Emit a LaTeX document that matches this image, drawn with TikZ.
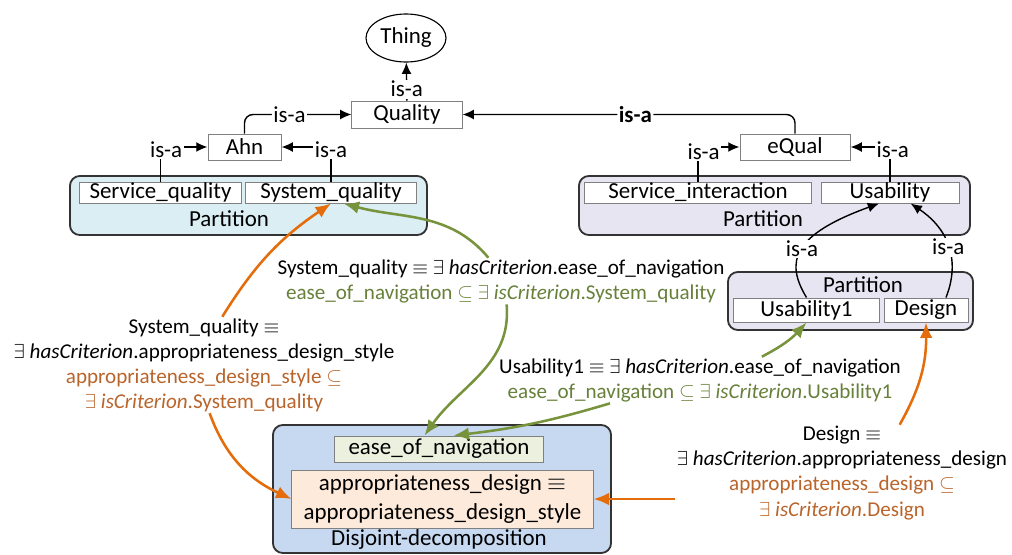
\documentclass[tikz,border=0pt]{standalone}
\usepackage{fontspec}
\setmainfont{Carlito}
\usetikzlibrary{arrows.meta,shapes.geometric}
\definecolor{grnarrow}{HTML}{77933C}
\definecolor{grntext}{HTML}{67803A}
\definecolor{orgarrow}{HTML}{E46C0A}
\definecolor{brntext}{HTML}{B9642A}
\definecolor{partblue}{HTML}{DAEEF3}
\definecolor{partlilac}{HTML}{E7E5F1}
\definecolor{disjblue}{HTML}{C6D9F1}
\definecolor{navgreen}{HTML}{EBF1DE}
\definecolor{apppeach}{HTML}{FDEADA}
\newcommand{\grn}[1]{\textcolor{grntext}{#1}}
\newcommand{\brn}[1]{\textcolor{brntext}{#1}}

\begin{document}
\begin{tikzpicture}[x=0.025cm, y=-0.025cm,
		every node/.style={font=\fontsize{16.3}{20.6}\selectfont},
		concept/.style={draw=black!50, fill=white, inner sep=0pt, line width=0.7pt},
		group/.style={draw=black!80, line width=1.3pt, rounded corners=7pt, inner sep=0pt},
		isa/.style={-{Latex[length=8pt,width=7pt]}, line width=1pt},
		lbl/.style={fill=white, inner sep=1pt},
		boldlbl/.style={lbl, font=\fontsize{16.3}{20.6}\selectfont\bfseries},
		garrow/.style={-{Latex[length=11pt,width=9pt]}, grnarrow, line width=1.8pt},
		oarrow/.style={-{Latex[length=11pt,width=9pt]}, orgarrow, line width=1.8pt},
		axiom/.style={align=center, inner sep=1pt, font=\fontsize{15}{17.8}\selectfont}]
			%%%%% START %%%%%
			\useasboundingbox (0, 0) rectangle (1012, 554);
			
			\node[draw, ellipse, line width=0.8pt, minimum width=2cm, minimum height=1.2cm, inner sep=0pt] (thing) at (406, 38) {Thing};
			\node[concept, minimum width=2.75cm, minimum height=0.675cm] (quality) at (407, 114.5) {Quality};
			\node[concept, minimum width=1.825cm, minimum height=0.65cm] (ahn) at (244.5, 147) {Ahn};
			\node[concept, minimum width=2.75cm, minimum height=0.65cm] (equal) at (795, 147) {eQual};
			
			% partitions
			\node[group, fill=partblue, minimum width=8.925cm, minimum height=1.475cm] (partleft) at (248.5, 205.5) {};
			\node[concept, minimum width=4.025cm, minimum height=0.525cm] (servq) at (160.5, 192.5) {Service\_quality};
			\node[concept, minimum width=4.25cm, minimum height=0.525cm] (sysq) at (331, 192.5) {System\_quality};
			\node (partleftlbl) at (229, 219) {Partition};
			
			\node[group, fill=partlilac, minimum width=9.775cm, minimum height=1.475cm] (partright) at (774.5, 205.5) {};
			\node[concept, minimum width=5.65cm, minimum height=0.525cm] (servint) at (698, 192.5) {Service\_interaction};
			\node[concept, minimum width=3.45cm, minimum height=0.525cm] (usab) at (890, 192.5) {Usability};
			\node (partrightlbl) at (763, 219) {Partition};
			
			\node[group, fill=partlilac, minimum width=6.125cm, minimum height=1.45cm] (partsmall) at (850.5, 301) {};
			\node (partsmalllbl) at (863, 285) {Partition};
			\node[concept, minimum width=3.625cm, minimum height=0.6cm] (usab1) at (806.5, 310) {Usability1};
			\node[concept, minimum width=2.1cm, minimum height=0.6cm] (design) at (926, 310) {Design};
			
			% disjoint decomposition
			\node[group, fill=disjblue, minimum width=8.45cm, minimum height=3.2cm] (disjoint) at (442, 489) {};
			\node[concept, fill=navgreen, minimum width=5.2cm, minimum height=0.65cm] (ease) at (439, 449) {ease\_of\_navigation};
			\node[concept, fill=apppeach, align=center, minimum width=7.525cm, minimum height=1.45cm] (approp) at (442.5, 499) {appropriateness\_design $\equiv$\\ appropriateness\_design\_style};
			\node (disjointlbl) at (439, 539) {Disjoint-decomposition};
			
			% axioms
			\node[axiom] (sqnav) at (501, 281) {System\_quality $\equiv$ $\exists$ \textit{hasCriterion}.ease\_of\_navigation\\ \grn{ease\_of\_navigation $\subseteq$ $\exists$ \textit{isCriterion}.System\_quality}};
			\node[axiom] (sqdef) at (204, 365) {System\_quality $\equiv$\\ $\exists$ \textit{hasCriterion}.appropriateness\_design\_style\\ \brn{appropriateness\_design\_style $\subseteq$}\\ \brn{$\exists$ \textit{isCriterion}.System\_quality}};
			\node[axiom] (u1nav) at (700, 380) {Usability1 $\equiv$ $\exists$ \textit{hasCriterion}.ease\_of\_navigation\\ \grn{ease\_of\_navigation $\subseteq$ $\exists$ \textit{isCriterion}.Usability1}};
			\node[axiom] (designdef) at (842, 473) {Design $\equiv$\\ $\exists$ \textit{hasCriterion}.appropriateness\_design\\ \brn{appropriateness\_design $\subseteq$}\\ \brn{$\exists$ \textit{isCriterion}.Design}};
			
			% is-a links
			\draw[isa] (quality) -- node[lbl, pos=0.3] {is-a} (thing);
			\draw[isa, rounded corners=6pt] (ahn.north) |- node[lbl, pos=0.71] {is-a} (quality.west);
			\draw[isa, rounded corners=6pt] (equal.north) |- node[boldlbl, pos=0.74] {is-a} (quality.east);
			\draw[isa] (servq.north) |- node[lbl, pos=0.5, xshift=4pt, yshift=-2pt] {is-a} (ahn.west);
			\draw[isa] (sysq.north) |- node[lbl, pos=0.5, yshift=-2pt] {is-a} (ahn.east);
			\draw[isa] (servint.north) |- node[lbl, pos=0.5, xshift=4pt, yshift=-3pt] {is-a} (equal.west);
			\draw[isa] (usab.north) |- node[lbl, pos=0.5, xshift=2pt, yshift=-2pt] {is-a} (equal.east);
			\draw[isa] (usab1.north) .. controls (785, 262) and (792, 235) .. node[lbl] {is-a} (usab.-135);
			\draw[isa] (design.32) .. controls (960, 262) and (950, 230) .. node[lbl] {is-a} (usab.-28);
			
			% criterion links
			\draw[oarrow] ([xshift=13pt]sqdef.north) to[bend left=12] (sysq.south);
			\draw[oarrow] ([xshift=4pt]sqdef.south) to[out=-70, in=155] (approp.west);
			\draw[garrow] ([xshift=-9pt]sqnav.north) to[out=130, in=-15] (sysq.-41);
			\draw[garrow] ([xshift=4pt]sqnav.south) to[out=-85, in=55] (ease.137);
			\draw[garrow] ([xshift=44pt]u1nav.north) to[bend right=10] (usab1.south);
			\draw[garrow] ([xshift=-64pt]u1nav.south) to[bend left=5] (ease.43);
			\draw[oarrow] ([xshift=41pt]designdef.north) to[bend right=15] (design.south);
			\draw[oarrow] (designdef.west |- approp.east) -- (approp.east);
			%%%%% END %%%%%
		\end{tikzpicture}
\end{document}
